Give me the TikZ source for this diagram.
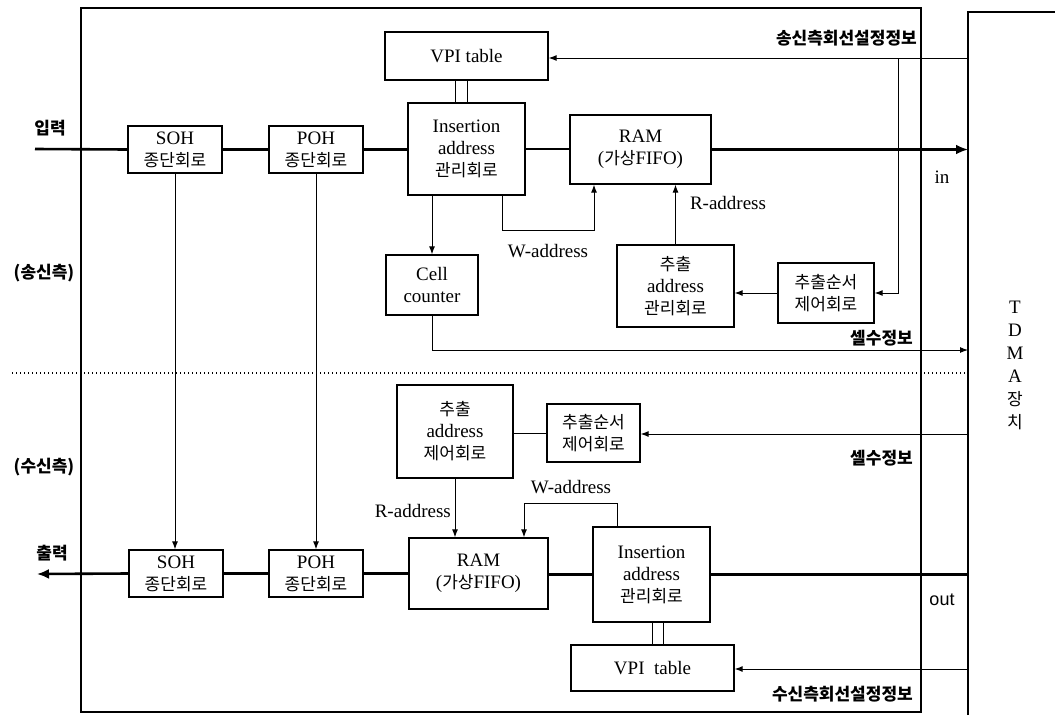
\documentclass[tikz,border=0pt]{standalone}
\usepackage{fontspec}
\setmainfont{Liberation Serif}
\newfontfamily\krf{Noto Sans CJK KR}
\newfontfamily\sansf{Liberation Sans}
\usetikzlibrary{arrows.meta}
\newcommand{\hk}[1]{{\krf\fontsize{17}{22}\selectfont #1}}
\newcommand{\hkb}[1]{{\krf\bfseries\fontsize{17}{22}\selectfont #1}}
\begin{document}
\begin{tikzpicture}[x=1pt,y=-1pt,
  box/.style={draw, line width=1.3pt, align=center, inner sep=0pt, font=\fontsize{19}{22}\selectfont},
  bus/.style={line width=2.6pt},
  wire/.style={line width=1pt},
  frm/.style={line width=1.4pt},
  arr/.style={-{Latex[length=8pt,width=6pt]}},
  busarr/.style={-{Latex[length=12pt,width=10pt]}},
  lbl/.style={inner sep=0pt, font=\fontsize{19}{22}\selectfont}]
\useasboundingbox (0,0) rectangle (1055,715);

% frames
\draw[frm] (81,8) rectangle (921,712);
\draw[frm] (968,715) -- (968,12) -- (1055,12);
\coordinate (tdma) at (968,0);

% upper (send) side
\node[box, minimum width=94pt, minimum height=47pt] (soh1) at (175,149.5) {SOH\\\hk{종단회로}};
\node[box, minimum width=94pt, minimum height=47pt] (poh1) at (316,149.5) {POH\\\hk{종단회로}};
\node[box, minimum width=163pt, minimum height=48pt] (vpi1) at (466.5,56) {VPI table};
\node[box, minimum width=117pt, minimum height=92pt] (ins1) at (466.5,149) {Insertion\\address\\\hk{관리회로}};
\node[box, minimum width=141pt, minimum height=69pt] (ram1) at (640.5,149.5) {RAM\\(\hk{가상}FIFO)};
\node[box, minimum width=92pt, minimum height=60pt] (cell) at (432,285) {Cell\\counter};
\node[box, minimum width=117pt, minimum height=82pt] (ext1) at (675.5,286) {\hk{추출}\\address\\\hk{관리회로}};
\node[box, minimum width=96pt, minimum height=60pt] (ord1) at (826,293) {\hk{추출순서}\\\hk{제어회로}};

% lower (receive) side
\node[box, minimum width=116pt, minimum height=93pt] (ext2) at (455,431.5) {\hk{추출}\\address\\\hk{제어회로}};
\node[box, minimum width=93pt, minimum height=58pt] (ord2) at (593.5,433) {\hk{추출순서}\\\hk{제어회로}};
\node[box, minimum width=94pt, minimum height=47pt] (soh2) at (176,573.5) {SOH\\\hk{종단회로}};
\node[box, minimum width=94pt, minimum height=47pt] (poh2) at (316,573.5) {POH\\\hk{종단회로}};
\node[box, minimum width=139pt, minimum height=71pt] (ram2) at (478.5,573.5) {RAM\\(\hk{가상}FIFO)};
\node[box, minimum width=117pt, minimum height=95pt] (ins2) at (651.5,574.5) {Insertion\\address\\\hk{관리회로}};
\node[box, minimum width=163pt, minimum height=46pt] (vpi2) at (652.5,668) {VPI\enspace table};

% coordinates
\coordinate (inp) at (35,149);
\coordinate (outp) at (37,574);
\coordinate (c1) at (968,58);
\coordinate (br) at (898,58);
\coordinate (cc) at (968,350);
\coordinate (c2) at (968,434);
\coordinate (c3) at (968,669);

% upper connectors
\draw[bus] (inp) -- (soh1.west);
\draw[bus] (soh1.east) -- (poh1.west);
\draw[bus] (poh1.east) -- (poh1.east -| ins1.west);
\draw[bus] (ins1.east) -- (ins1.east -| ram1.west);
\draw[bus, busarr] (ram1.east) -- (ram1.east -| tdma);
\draw[wire] ([xshift=-11.5pt]vpi1.south) -- ([xshift=-11.5pt]vpi1.south |- ins1.north);
\draw[wire] ([xshift=0.5pt]vpi1.south) -- ([xshift=0.5pt]vpi1.south |- ins1.north);
\draw[wire, arr] (cell.north |- ins1.south) -- (cell.north);
\draw[wire, arr] ([xshift=35.5pt]ins1.south) -- ++(0,35) -| ([xshift=-46.5pt]ram1.south);
\draw[wire, arr] (ext1.north) -- (ext1.north |- ram1.south);
\draw[wire, arr] (ord1.west) -- (ord1.west -| ext1.east);
\draw[wire, arr] (c1) -- (c1 -| vpi1.east);
\draw[wire, arr] (br) |- (ord1.east);
\draw[wire, arr] (cell.south) |- (cc);
\draw[wire, arr] (soh1.south) -- (soh1.south |- soh2.north);
\draw[wire, arr] (poh1.south) -- (poh2.north);

% separator
\draw[line width=1.2pt, dash pattern=on 1.4pt off 2.6pt] (12,373) -- (966,373);

% lower connectors
\draw[wire, arr] (c2) -- (c2 -| ord2.east);
\draw[wire] (ord2.west) -- (ord2.west -| ext2.east);
\draw[wire, arr] (ext2.south) -- (ext2.south |- ram2.north);
\draw[wire, arr] ([xshift=-34.5pt]ins2.north) -- ++(0,-23) -| ([xshift=45.5pt]ram2.north);
\draw[bus] (ins2.west) -- (ins2.west -| ram2.east);
\draw[bus] (ram2.west) -- (ram2.west -| poh2.east);
\draw[bus] (poh2.west) -- (soh2.east);
\draw[bus, busarr] (soh2.west) -- (outp);
\draw[bus] (ins2.east) -- (ins2.east -| tdma);
\draw[wire] ([xshift=0.5pt]ins2.south) -- ([xshift=0.5pt]ins2.south |- vpi2.north);
\draw[wire] ([xshift=11.5pt]ins2.south) -- ([xshift=11.5pt]ins2.south |- vpi2.north);
\draw[wire, arr] (c3) -- (c3 -| vpi2.east);

% labels
\node[lbl, anchor=east] (l1) at (917,38) {\hkb{송신측회선설정정보}};
\node[lbl] (lin) at (942,177) {in};
\node[lbl] (lr1) at (728,203) {R-address};
\node[lbl] (lw1) at (548,251) {W-address};
\node[lbl, anchor=east] (ls1) at (913,338) {\hkb{셀수정보}};
\node[lbl] (lsend) at (44,273) {\hkb{(송신측)}};
\node[lbl] (lip) at (50,128) {\hkb{입력}};
\node[lbl] (lop) at (52,553) {\hkb{출력}};
\node[lbl] (lrecv) at (44,467) {\hkb{(수신측)}};
\node[lbl, anchor=east] (ls2) at (913,458) {\hkb{셀수정보}};
\node[lbl, anchor=east] (lr2) at (451,511) {R-address};
\node[lbl] (lw2) at (571,487) {W-address};
\node[lbl, font=\sansf\fontsize{18}{22}\selectfont] (lout) at (942,600) {out};
\node[lbl, anchor=east] (l2) at (913,694) {\hkb{수신측회선설정정보}};
\node[lbl, align=center, font=\fontsize{19}{23}\selectfont] (ltdma) at (1015,365) {T\\D\\M\\A\\\hk{장}\\\hk{치}};
\end{tikzpicture}
\end{document}
